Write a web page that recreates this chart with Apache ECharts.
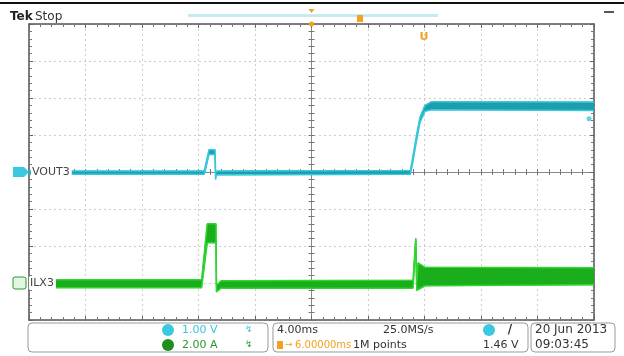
<!DOCTYPE html>
<html><head><meta charset="utf-8">
<script src="https://cdn.jsdelivr.net/npm/echarts@6/dist/echarts.min.js"></script>
<style>html,body{margin:0;padding:0;background:#fff}#c{width:624px;height:356px}</style>
</head><body><div id="c"></div>
<script>
// Channel 2 (VOUT3, 1.00 V/div): time in ms, envelope low/high in volts
const voutT  = [-20, -7.6, -7.54, -7.26, -6.83, -6.79, -6.74, -6.6, 7.0, 7.15, 7.33, 7.5, 7.68, 8.03, 8.5, 20];
const voutLo = [-0.06, -0.06, -0.04, 0.47, 0.47, -0.2, -0.08, -0.06, -0.06, 0.22, 0.62, 0.98, 1.34, 1.64, 1.68, 1.66];
const voutHi = [0.03, 0.03, 0.05, 0.60, 0.60, 0.0, 0.03, 0.03, 0.04, 0.36, 0.76, 1.12, 1.48, 1.80, 1.90, 1.89];
// Channel 4 (ILX3, 2.00 A/div): time in ms, envelope low/high in amps
const ilT  = [-20, -7.78, -7.38, -6.76, -6.73, -6.4, 7.19, 7.38, 7.45, 7.54, 8.04, 20];
const ilLo = [-0.25, -0.25, 2.17, 2.17, -0.48, -0.28, -0.28, 2.30, -0.40, -0.37, -0.15, -0.10];
const ilHi = [0.17, 0.17, 3.20, 3.20, -0.12, 0.12, 0.15, 2.42, 0.10, 1.09, 0.85, 0.82];
// small cyan dot near right edge
const dotT = [19.65];
const dotV = [1.44];
// settings readouts
const ch2Scale = '1.00 V', ch4Scale = '2.00 A';
const timeDiv = '4.00ms', sampleRate = '25.0MS/s', hPos = '6.00000ms', recLen = '1M points', trigLevel = '1.46 V';
const dateStr = '20 Jun 2013', timeStr = '09:03:45';
const ch2Label = 'VOUT3', ch4Label = 'ILX3';

const FONT = 'DejaVu Sans';
const chart = echarts.init(document.getElementById('c'), null, {renderer:'canvas'});
const rect = {left:29, top:24, width:565, height:296, show:false};
const border = {onZero:false, lineStyle:{color:'#555', width:1.5}};
const tickIn = {show:true, inside:true, length:4, lineStyle:{color:'#666'}};
const minorIn = {show:true, splitNumber:5, length:3, lineStyle:{color:'#777'}};
const dotted = {show:true, lineStyle:{color:'#cccccc', type:[2,3], width:1}};
const xBase = {type:'value', min:-20, max:20, interval:4, axisLabel:{show:false}};
const yBase = {type:'value', min:-4, max:4, interval:1, axisLabel:{show:false}};

function band(t, lo, hi, yi, fill, edge) {
  return [
    {type:'custom', coordinateSystem:'cartesian2d', xAxisIndex:0, yAxisIndex:yi,
     data:t.map((x,i)=>[x, lo[i], hi[i]]), encode:{x:0, y:[1,2]}, z:4, clip:true,
     renderItem:function(params, api){
       if (params.dataIndex !== 0) return null;
       const pts = [];
       for (let i=0;i<t.length;i++) pts.push(api.coord([t[i], lo[i]]));
       for (let i=t.length-1;i>=0;i--) pts.push(api.coord([t[i], hi[i]]));
       return {type:'polygon', shape:{points:pts}, style:{fill:fill, stroke:fill, lineWidth:0.5}};
     }},
    {type:'line', xAxisIndex:0, yAxisIndex:yi, data:t.map((x,i)=>[x, lo[i]]), symbol:'none',
     lineStyle:{color:edge, width:1.5}, z:5},
    {type:'line', xAxisIndex:0, yAxisIndex:yi, data:t.map((x,i)=>[x, hi[i]]), symbol:'none',
     lineStyle:{color:edge, width:1.5}, z:5}
  ];
}

const option = {
  animation:false,
  backgroundColor:'#fff',
  grid:[rect, rect, rect, rect],
  xAxis:[
    Object.assign({}, xBase, {gridIndex:0, position:'bottom', axisLine:border, axisTick:tickIn, minorTick:minorIn, splitLine:dotted}),
    Object.assign({}, xBase, {gridIndex:1, position:'top', axisLine:border, axisTick:tickIn, minorTick:minorIn, splitLine:{show:false}}),
    Object.assign({}, xBase, {gridIndex:2, position:'bottom', axisLine:{onZero:true, lineStyle:{color:'#888', width:1}}, axisTick:{show:true, inside:true, length:3, lineStyle:{color:'#777'}}, minorTick:minorIn, splitLine:{show:false}}),
    Object.assign({}, xBase, {gridIndex:3, position:'bottom', axisLine:{onZero:true, show:false}, axisTick:{show:true, inside:false, length:3, lineStyle:{color:'#777'}}, minorTick:{show:true, splitNumber:5, length:3, lineStyle:{color:'#777'}}, splitLine:{show:false}})
  ],
  yAxis:[
    Object.assign({}, yBase, {gridIndex:0, position:'left', axisLine:border, axisTick:tickIn, minorTick:minorIn, splitLine:dotted}),
    {type:'value', gridIndex:0, min:-2, max:14, interval:2, show:false},
    Object.assign({}, yBase, {gridIndex:1, position:'right', axisLine:border, axisTick:tickIn, minorTick:minorIn, splitLine:{show:false}}),
    Object.assign({}, yBase, {gridIndex:2, position:'left', axisLine:{onZero:true, lineStyle:{color:'#888', width:1}}, axisTick:{show:true, inside:true, length:3, lineStyle:{color:'#777'}}, minorTick:minorIn, splitLine:{show:false}}),
    Object.assign({}, yBase, {gridIndex:3, position:'left', axisLine:{onZero:true, show:false}, axisTick:{show:true, inside:false, length:3, lineStyle:{color:'#777'}}, minorTick:{show:true, splitNumber:5, length:3, lineStyle:{color:'#777'}}, splitLine:{show:false}})
  ],
  series:[
    ...band(voutT, voutLo, voutHi, 0, '#1c9eae', '#38c8dc'),
    ...band(ilT, ilLo, ilHi, 1, '#1aae1c', '#30d530'),
    {type:'scatter', xAxisIndex:0, yAxisIndex:0, data:dotT.map((x,i)=>[x, dotV[i]]), symbolSize:5, itemStyle:{color:'#3cc8dc'}, z:6}
  ]
};
chart.setOption(option);

const y2 = chart.convertToPixel({gridIndex:0, yAxisIndex:0}, 0);
const y4 = chart.convertToPixel({gridIndex:0, yAxisIndex:1}, 0);
const xTrig = chart.convertToPixel({gridIndex:0, xAxisIndex:0}, 0);

function txt(x, y, s, color, size, weight, align) {
  return {type:'text', x:x, y:y, z:20, style:{text:s, fill:color, font:(weight||'normal')+' '+(size||11)+'px "'+FONT+'"', textAlign:align||'left', textVerticalAlign:'middle'}};
}
const orange = '#f2a21e';
const g = [
  {type:'rect', shape:{x:0, y:2, width:624, height:2}, style:{fill:'#111'}, z:20},
  txt(10, 17, 'Tek', '#222', 12, 'bold'),
  txt(35, 17, 'Stop', '#333', 12),
  {type:'rect', shape:{x:188, y:14, width:250, height:3}, style:{fill:'#c4ebf5'}, z:20},
  {type:'polygon', shape:{points:[[xTrig-3,9],[xTrig+3,9],[xTrig,13]]}, style:{fill:orange}, z:21},
  {type:'circle', shape:{cx:xTrig, cy:24, r:2.5}, style:{fill:orange}, z:21},
  {type:'rect', shape:{x:357, y:15, width:6, height:7}, style:{fill:orange}, z:21},
  txt(424, 37, 'U', orange, 11, 'bold', 'center'),
  {type:'line', shape:{x1:604, y1:12, x2:614, y2:12}, style:{stroke:'#555', lineWidth:2}, z:20},
  // channel markers
  {type:'polygon', shape:{points:[[13,y2-5],[24,y2-5],[29,y2],[24,y2+5],[13,y2+5]]}, style:{fill:'#3cc8e0'}, z:21},
  txt(19, y2, '2', '#fff', 9, 'bold', 'center'),
  {type:'text', x:31, y:y2, z:21, style:{text:ch2Label, fill:'#444', font:'11px "'+FONT+'"', textVerticalAlign:'middle', backgroundColor:'#fff', padding:[1,2,1,1]}},
  {type:'rect', shape:{x:13, y:y4-6, width:13, height:12, r:2}, style:{fill:'#e2f6e2', stroke:'#2a9a2a', lineWidth:1}, z:21},
  txt(19.5, y4, '4', '#2a9a2a', 9, 'bold', 'center'),
  {type:'text', x:29, y:y4, z:21, style:{text:ch4Label, fill:'#444', font:'11px "'+FONT+'"', textVerticalAlign:'middle', backgroundColor:'#fff', padding:[1,2,1,1]}},
  // bottom panel
  {type:'rect', shape:{x:28, y:323, width:240, height:29, r:4}, style:{fill:'none', stroke:'#999', lineWidth:1}, z:20},
  {type:'rect', shape:{x:273, y:323, width:255, height:29, r:4}, style:{fill:'none', stroke:'#999', lineWidth:1}, z:20},
  {type:'rect', shape:{x:531, y:323, width:84, height:29, r:4}, style:{fill:'none', stroke:'#999', lineWidth:1}, z:20},
  {type:'circle', shape:{cx:168, cy:330, r:6}, style:{fill:'#3cc8e0'}, z:21},
  txt(168, 330, '2', '#134', 9, 'bold', 'center'),
  txt(182, 330, ch2Scale, '#3cc4da', 11),
  txt(245, 330, '↯', '#3cc4da', 9),
  {type:'circle', shape:{cx:168, cy:345, r:6}, style:{fill:'#1e8e1e'}, z:21},
  txt(168, 345, '4', '#fff', 9, 'bold', 'center'),
  txt(182, 345, ch4Scale, '#2a9a2a', 11),
  txt(245, 345, '↯', '#2a9a2a', 9),
  txt(277, 330, timeDiv, '#333', 11),
  txt(383, 330, sampleRate, '#333', 11),
  {type:'circle', shape:{cx:489, cy:330, r:6}, style:{fill:'#3cc8e0'}, z:21},
  txt(489, 330, '2', '#134', 9, 'bold', 'center'),
  txt(510, 330, '/', '#333', 12, 'bold', 'center'),
  {type:'rect', shape:{x:277, y:341, width:6, height:8}, style:{fill:orange}, z:21},
  txt(285, 345, '→', orange, 9),
  txt(295, 345, hPos, orange, 10),
  txt(353, 345, recLen, '#333', 11),
  txt(483, 345, trigLevel, '#333', 11),
  txt(535, 330, dateStr, '#333', 12),
  txt(535, 345, timeStr, '#333', 12)
];
chart.setOption({graphic:g});
</script>
</body></html>
